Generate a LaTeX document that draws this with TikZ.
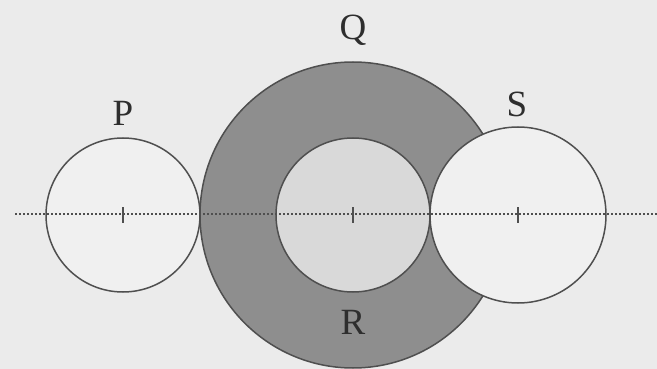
\documentclass[tikz,border=0pt]{standalone}
\usepackage{fontspec}
\setmainfont{Liberation Serif}
\usepackage{tikz}

\definecolor{paper}{HTML}{EBEBEB}
\definecolor{blank}{HTML}{F0F0F0}
\definecolor{annulus}{HTML}{8E8E8E}
\definecolor{core}{HTML}{D9D9D9}
\definecolor{rim}{HTML}{4F4F4F}
\definecolor{ink}{HTML}{2E2E2E}

\begin{document}
\begin{tikzpicture}[x=1pt,y=-1pt,line width=1.5pt,
    disc/.style={circle,draw=rim,inner sep=0pt},
    tag/.style={font=\fontsize{37}{40}\selectfont,text=ink}]
  \fill[paper] (0,0) rectangle (657,369);
  \useasboundingbox (0,0) rectangle (657,369);

  \node[disc,fill=annulus,minimum size=306pt] (q) at (353,215) {};
  \node[disc,fill=core,minimum size=154pt] (r) at (353,215) {};
  \node[disc,fill=blank,minimum size=154pt] (p) at (123,215) {};
  \node[disc,fill=blank,minimum size=176pt] (s) at (518,215) {};

  % axis through the centres
  \coordinate (west) at (15,214);
  \coordinate (east) at (657,214);
  \draw[rim,line width=1.5pt,dash pattern=on 2pt off 2pt] (west) -- (east);
  \foreach \c in {p,r,s}
    \draw[rim,line width=1.6pt] (\c.center) ++(0,-8) -- ++(0,16);

  \node[tag] (lq) at (353,30) {Q};
  \node[tag] (lp) at (123,113) {P};
  \node[tag] (ls) at (517,104) {S};
  \node[tag] (lr) at (353,322) {R};
\end{tikzpicture}
\end{document}
